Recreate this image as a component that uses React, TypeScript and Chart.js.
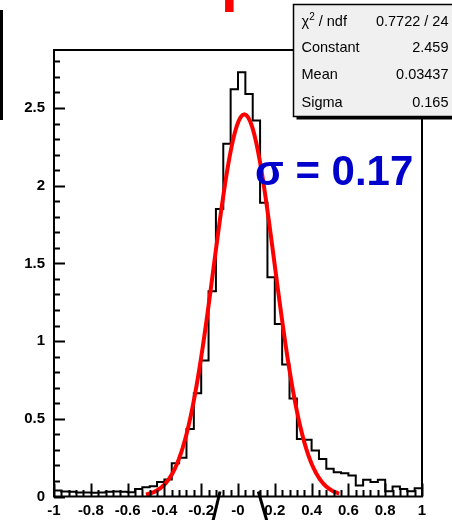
import React, { useEffect, useRef } from 'react';
import { Chart, registerables } from 'chart.js';

Chart.register(...registerables);

// ---- Histogram data (bin contents, 50 bins of width 0.04 from -1 to 1) ----
const binLow = -1;
const binWidth = 0.04;
const binContents = [
  0.039, 0.032, 0.030, 0.026, 0.026, 0.024, 0.026, 0.030, 0.032, 0.030,
  0.028, 0.049, 0.060, 0.066, 0.094, 0.110, 0.214, 0.250, 0.435, 0.665,
  0.875, 1.32, 1.85, 2.27, 2.62, 2.73, 2.59, 2.42, 1.89, 1.41,
  1.11, 0.85, 0.63, 0.37, 0.365, 0.296, 0.242, 0.178, 0.156, 0.150,
  0.135, 0.071, 0.107, 0.093, 0.107, 0.034, 0.064, 0.049, 0.034, 0.053,
];

// ---- Gaussian fit parameters (from the stats box) ----
const fitConstant = 2.459;
const fitMean = 0.03437;
const fitSigma = 0.165;
const fitRange = [-0.5, 0.55];
const fitSamples = 100;

// ---- Axes ----
const xRange = [-1, 1];
const yRange = [0, 2.873];
const xTickValues = [-1, -0.8, -0.6, -0.4, -0.2, 0, 0.2, 0.4, 0.6, 0.8, 1];
const xTickLabels = ['-1', '-0.8', '-0.6', '-0.4', '-0.2', '-0', '0.2', '0.4', '0.6', '0.8', '1'];
const xMinorStep = 0.04;
const yTickValues = [0, 0.5, 1, 1.5, 2, 2.5];
const yTickLabels = ['0', '0.5', '1', '1.5', '2', '2.5'];
const yMinorStep = 0.1;

// ---- Texts ----
const titleText = 'Track slope';
const resultLabel = 'σ = 0.17';
const statNames = ['χ', 'Constant', 'Mean', 'Sigma'];
const statValues = ['0.7722 / 24', '2.459', '0.03437', '0.165'];

const FONT = "'Liberation Sans', Arial, Helvetica, sans-serif";

const rootFrame = {
  id: 'rootFrame',
  afterDatasetsDraw(chart: any) {
    const { ctx, chartArea: a, scales } = chart;
    const xs = scales.x;
    const ys = scales.y;
    ctx.save();
    ctx.strokeStyle = '#000';
    ctx.lineWidth = 2;
    ctx.beginPath();
    const nx = Math.round((xRange[1] - xRange[0]) / xMinorStep);
    for (let i = 0; i <= nx; i++) {
      const v = xRange[0] + i * xMinorStep;
      const major = xTickValues.some((t) => Math.abs(t - v) < 1e-6);
      const px = Math.round(xs.getPixelForValue(v)) + 0.5;
      ctx.moveTo(px, a.bottom);
      ctx.lineTo(px, a.bottom - (major ? 13 : 6.5));
    }
    const ny = Math.floor((yRange[1] - yRange[0]) / yMinorStep + 1e-6);
    for (let i = 0; i <= ny; i++) {
      const v = yRange[0] + i * yMinorStep;
      const major = yTickValues.some((t) => Math.abs(t - v) < 1e-6);
      const py = Math.round(ys.getPixelForValue(v)) + 0.5;
      ctx.moveTo(a.left, py);
      ctx.lineTo(a.left + (major ? 11 : 6), py);
    }
    ctx.stroke();
    ctx.lineWidth = 2;
    ctx.strokeRect(a.left, a.top, a.right - a.left, a.bottom - a.top);
    ctx.restore();
  },
};

export default function App() {
  const canvasRef = useRef<HTMLCanvasElement | null>(null);

  useEffect(() => {
    const canvas = canvasRef.current;
    if (!canvas) return;

    const histPoints = binContents.map((v, i) => ({ x: binLow + i * binWidth, y: v }));
    histPoints.push({ x: binLow + binContents.length * binWidth, y: 0 });

    const fitPoints: { x: number; y: number }[] = [];
    for (let i = 0; i <= fitSamples; i++) {
      const x = fitRange[0] + ((fitRange[1] - fitRange[0]) * i) / fitSamples;
      const z = (x - fitMean) / fitSigma;
      fitPoints.push({ x, y: fitConstant * Math.exp(-0.5 * z * z) });
    }

    const chart = new Chart(canvas, {
      type: 'line',
      data: {
        datasets: [
          {
            label: 'hist',
            data: histPoints,
            borderColor: '#000',
            borderWidth: 2,
            pointRadius: 0,
            fill: false,
            stepped: 'before',
            order: 2,
          } as any,
          {
            label: 'fit',
            data: fitPoints,
            borderColor: '#ff0000',
            borderWidth: 4,
            pointRadius: 0,
            fill: false,
            tension: 0,
            order: 1,
          } as any,
        ],
      },
      options: {
        responsive: false,
        animation: false,
        devicePixelRatio: 1,
        layout: { padding: { left: 0, right: 30, top: 50, bottom: 0 } },
        plugins: { legend: { display: false }, tooltip: { enabled: false }, title: { display: false } },
        scales: {
          x: {
            type: 'linear',
            min: xRange[0],
            max: xRange[1],
            grid: { display: false, drawTicks: false },
            border: { display: false },
            afterBuildTicks: (scale: any) => {
              scale.ticks = xTickValues.map((v) => ({ value: v }));
            },
            afterFit: (scale: any) => {
              scale.height = 23.5;
            },
            ticks: {
              autoSkip: false,
              maxRotation: 0,
              padding: 5,
              color: '#000',
              font: { family: FONT, size: 15, weight: 'bold' },
              callback: (_v: any, i: number) => xTickLabels[i],
            },
          },
          y: {
            type: 'linear',
            min: yRange[0],
            max: yRange[1],
            grid: { display: false, drawTicks: false },
            border: { display: false },
            afterBuildTicks: (scale: any) => {
              scale.ticks = yTickValues.map((v) => ({ value: v }));
            },
            afterFit: (scale: any) => {
              scale.width = 54;
            },
            ticks: {
              autoSkip: false,
              padding: 9,
              color: '#000',
              font: { family: FONT, size: 15, weight: 'bold' },
              callback: (_v: any, i: number) => yTickLabels[i],
            },
          },
        },
      } as any,
      plugins: [rootFrame],
    });

    return () => chart.destroy();
  }, []);

  const rowY = [25.5, 52, 79, 106.5];

  return (
    <div
      style={{
        position: 'fixed',
        left: 0,
        top: 0,
        width: 452,
        height: 520,
        overflow: 'hidden',
        background: '#fff',
      }}
    >
      <canvas ref={canvasRef} width={452} height={520} style={{ display: 'block', width: 452, height: 520 }} />
      <svg
        width={452}
        height={520}
        style={{ position: 'absolute', left: 0, top: 0, pointerEvents: 'none' }}
        fontFamily={FONT}
      >
        <text x={-48} y={-1.5} fill="#ff0000" fontSize={62} fontWeight="bold">
          {titleText}
        </text>
        <rect x={0} y={10} width={3} height={110} fill="#000" />
        <line x1={220} y1={491.5} x2={212.7} y2={522} stroke="#000" strokeWidth={3} />
        <line x1={258.3} y1={491.5} x2={267.2} y2={522} stroke="#000" strokeWidth={3} />
        <text x={255} y={185} fill="#0000cc" fontSize={42} fontWeight="bold">
          {resultLabel}
        </text>
        <rect x={296.5} y={7.5} width={200} height={112} fill="#000" />
        <rect x={293.5} y={4.5} width={200} height={112} fill="#f0f0f0" stroke="#000" strokeWidth={1.5} />
        <text x={301.5} y={rowY[0]} fontSize={14.5} fill="#000">
          {statNames[0]}
          <tspan dy={-6} fontSize={10}>2</tspan>
          <tspan dy={6}> / ndf</tspan>
        </text>
        {statNames.slice(1).map((n, i) => (
          <text key={n} x={301.5} y={rowY[i + 1]} fontSize={14.5} fill="#000">
            {n}
          </text>
        ))}
        {statValues.map((v, i) => (
          <text key={i} x={448.5} y={rowY[i]} fontSize={14.5} fill="#000" textAnchor="end">
            {v}
          </text>
        ))}
      </svg>
    </div>
  );
}
